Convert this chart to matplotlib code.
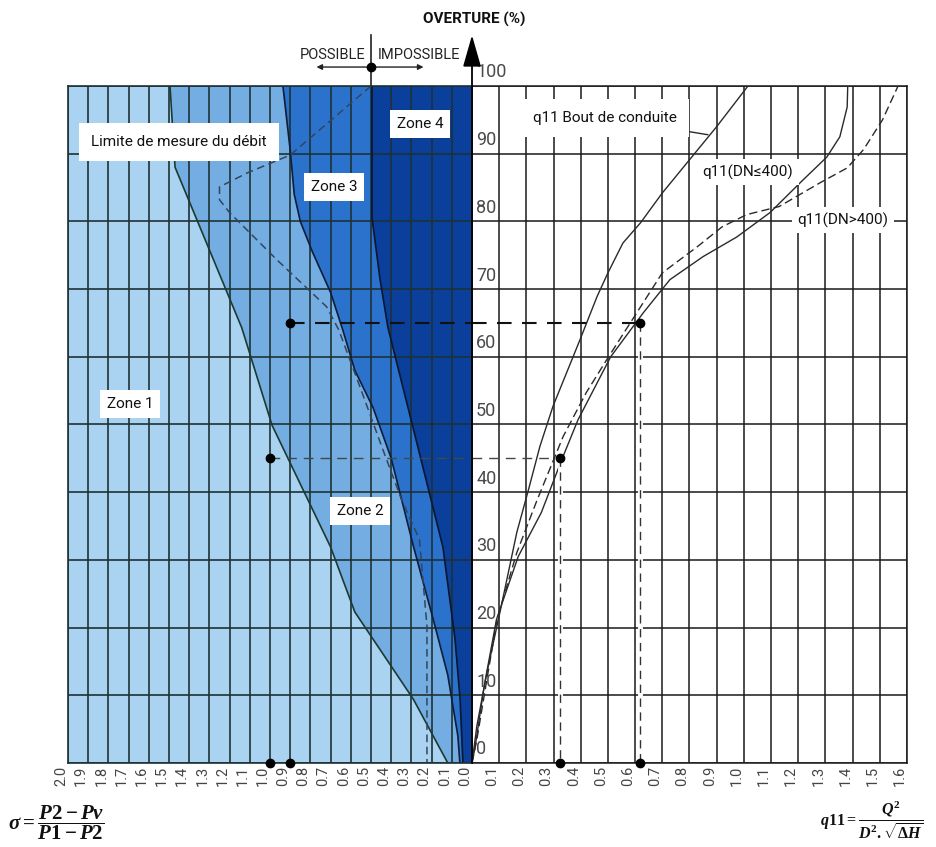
import numpy as np
import matplotlib
matplotlib.use("Agg")
import matplotlib.pyplot as plt
import matplotlib.transforms as mtransforms

plt.rcParams["font.family"] = ["Roboto", "DejaVu Sans"]
plt.rcParams["mathtext.fontset"] = "custom"
plt.rcParams["mathtext.rm"] = "Liberation Serif:bold"
plt.rcParams["mathtext.it"] = "Liberation Serif:italic:bold"
plt.rcParams["mathtext.bf"] = "Liberation Serif:bold"

# graduations
sigma_ticks = np.round(np.arange(0, 2.01, 0.1), 1)
q11_ticks = np.round(np.arange(0, 1.61, 0.1), 1)
ouv_ticks = np.arange(0, 101, 10)

# limites de zones (sigma, ouverture %)
zA_sigma = [1.495, 1.47, 1.14, 0.99, 0.70, 0.58, 0.49, 0.29, 0.12]
zA_ouv = [100, 88, 64.3, 49.9, 31.9, 22.3, 18.3, 9.4, 0]
zB_sigma = [0.936, 0.90, 0.88, 0.85, 0.79, 0.70, 0.64, 0.58, 0.49, 0.40, 0.29, 0.19, 0.12, 0.07, 0.06]
zB_ouv = [100, 90.5, 84, 80, 75.5, 69.5, 64, 58, 52.5, 45, 32, 21, 13, 4, 0]
zC_sigma = [0.495, 0.495, 0.455, 0.416, 0.295, 0.144, 0.084, 0.059, 0.045]
zC_ouv = [100, 80.5, 71.4, 64.3, 49.9, 31.9, 18.3, 9.4, 0]

# limite de mesure du debit
lim_sigma = [0.5, 0.90, 1.11, 1.25, 1.25, 1.20, 0.965, 0.72, 0.66, 0.56, 0.45, 0.35, 0.26, 0.223, 0.223]
lim_ouv = [100, 89.8, 87.2, 85.1, 83.2, 81.3, 74.3, 67.4, 64, 56, 47, 39, 33, 20.2, 0]

# courbes q11
bout_q = [0, 0.018, 0.055, 0.103, 0.165, 0.206, 0.25, 0.298, 0.397, 0.46, 0.50, 0.555, 0.62, 0.70, 0.80, 0.90, 1.015]
bout_ouv = [0, 5.5, 13.4, 22.3, 34.1, 40.1, 46.8, 52.7, 62.5, 68.9, 72.4, 76.8, 79.8, 84.2, 89.1, 94.0, 100]
dn1_q = [0, 0.012, 0.045, 0.09, 0.17, 0.255, 0.33, 0.39, 0.51, 0.63, 0.728, 0.85, 0.974, 1.096, 1.217, 1.305, 1.353, 1.38, 1.382]
dn1_ouv = [0, 2.5, 11.4, 21.2, 30.5, 37, 44.8, 50.7, 60, 66.5, 71.4, 74.8, 77.7, 81.3, 86.1, 89.5, 92.5, 96.9, 100]
dn2_q = [0, 0.018, 0.055, 0.092, 0.165, 0.24, 0.335, 0.42, 0.496, 0.59, 0.70, 0.83, 0.92, 1.01, 1.13, 1.28, 1.38, 1.44, 1.51, 1.567]
dn2_ouv = [0, 3.5, 12.4, 21.2, 31.1, 38.9, 48.2, 54.7, 59.6, 65.5, 72.4, 76.3, 79.2, 81, 82.2, 85.7, 87.9, 90.6, 95, 100]

# exemples de lecture
ex_sigma = [0.9, 1.0]
ex_ouv = [65, 45]
ex_q = [0.618, 0.324]

c_z1, c_z2, c_z3, c_z4 = "#a9d3f1", "#74ade2", "#2a72cc", "#0a3f9c"

W, H = 937, 847
fig = plt.figure(figsize=(W / 100, H / 100), dpi=100)


def rect(x0, y0, x1, y1):
    return [x0 / W, 1 - y1 / H, (x1 - x0) / W, (y1 - y0) / H]


axL = fig.add_axes(rect(68, 86, 472, 763))
axR = fig.add_axes(rect(472, 86, 907, 763))

# ---- partie gauche : sigma
axL.set_xlim(2.0, 0)
axL.set_ylim(0, 100)
axL.set_facecolor(c_z1)
axL.fill(zA_sigma + zB_sigma[::-1], zA_ouv + zB_ouv[::-1], color=c_z2, lw=0, zorder=0.5)
axL.fill(zB_sigma + zC_sigma[::-1], zB_ouv + zC_ouv[::-1], color=c_z3, lw=0, zorder=0.5)
axL.fill(zC_sigma + [0, 0], zC_ouv + [0, 100], color=c_z4, lw=0, zorder=0.5)
axL.plot(zA_sigma, zA_ouv, color="#1c3a30", lw=1.2, zorder=2)
axL.plot(zB_sigma, zB_ouv, color="#0e1d38", lw=1.2, zorder=2)
axL.plot(zC_sigma, zC_ouv, color="#0a1630", lw=1.2, zorder=2)
axL.plot(lim_sigma, lim_ouv, color="#33465c", lw=1.1, dashes=(5, 3), zorder=2)

axL.set_xticks(sigma_ticks)
axL.set_xticklabels([f"{v:.1f}" for v in sigma_ticks])
axL.set_yticks(ouv_ticks)
axL.grid(True, color="#1e3236", lw=1.2)
axL.tick_params(length=0, labelleft=False, pad=2)
for s in axL.spines.values():
    s.set_color("#1e3236")
    s.set_linewidth(1.2)

# ---- partie droite : q11
axR.set_xlim(0, 1.6)
axR.set_ylim(0, 100)
axR.set_xticks(q11_ticks)
axR.set_xticklabels([""] + [f"{v:.1f}" for v in q11_ticks[1:]])
axR.set_yticks(ouv_ticks)
axR.grid(True, color="#1a1a1a", lw=1.1)
axR.tick_params(length=0, labelleft=False, pad=2)
for s in axR.spines.values():
    s.set_color("#1a1a1a")
    s.set_linewidth(1.1)
axR.spines["left"].set_visible(False)

axR.plot(bout_q, bout_ouv, color="#2a2a2a", lw=1.0, zorder=3)
axR.plot(dn1_q, dn1_ouv, color="#2a2a2a", lw=1.0, zorder=3)
axR.plot(dn2_q, dn2_ouv, color="#2a2a2a", lw=1.0, dashes=(6, 3), zorder=3)

off = mtransforms.ScaledTranslation(-0.07, 0, fig.dpi_scale_trans)
for ax in (axL, axR):
    for lbl in ax.get_xticklabels():
        lbl.set_rotation(90)
        lbl.set_fontsize(10.5)
        lbl.set_color("#444444")
        lbl.set_transform(lbl.get_transform() + off)

for v in ouv_ticks:
    axR.text(0.015, v + 2, str(v), ha="left", va="center", fontsize=13,
             color="#4a4a4a", zorder=4)

# axe vertical avec fleche
axR.annotate("", xy=(0, 107.5), xytext=(0, 0),
             arrowprops=dict(arrowstyle="-|>,head_length=1.4,head_width=0.4",
                             color="black", lw=1.3, shrinkA=0, shrinkB=0,
                             mutation_scale=14),
             annotation_clip=False, zorder=8)

# lectures d'exemple
for s, o, q, style in zip(ex_sigma, ex_ouv, ex_q, [("#111111", 1.5), ("#3d4d45", 1.0)]):
    col, lw = style
    axL.plot([s, 0], [o, o], color=col, lw=lw, dashes=(7, 5), zorder=4)
    axR.plot([0, q], [o, o], color=col, lw=lw, dashes=(7, 5), zorder=4)
    axR.plot([q, q], [o, 0], color="white", lw=3.5, zorder=3.5)
    axR.plot([q, q], [o, 0], color="#333333", lw=1.0, dashes=(6, 4), zorder=4)
    axL.plot([s], [o], "o", color="black", ms=6, zorder=7)
    axR.plot([q], [o], "o", color="black", ms=6, zorder=7)
    axL.plot([s], [0], "o", color="black", ms=6, zorder=7, clip_on=False)
    axR.plot([q], [0], "o", color="black", ms=6, zorder=7, clip_on=False)

# possible / impossible
axL.plot([0.5, 0.5], [100, 107.6], color="#222222", lw=1.2, clip_on=False)
axL.plot([0.5], [102.8], "o", color="black", ms=6, clip_on=False, zorder=7)
axL.annotate("", xy=(0.77, 102.8), xytext=(0.5, 102.8),
             arrowprops=dict(arrowstyle="-|>", color="#222222", lw=1.0, shrinkA=0, shrinkB=0,
                             mutation_scale=8), annotation_clip=False)
axL.annotate("", xy=(0.24, 102.8), xytext=(0.5, 102.8),
             arrowprops=dict(arrowstyle="-|>", color="#222222", lw=1.0, shrinkA=0, shrinkB=0,
                             mutation_scale=8), annotation_clip=False)
axL.text(0.53, 104.6, "POSSIBLE", ha="right", va="center", fontsize=10.5, color="#222222")
axL.text(0.465, 104.6, "IMPOSSIBLE", ha="left", va="center", fontsize=10.5, color="#222222")

fig.text(474 / W, 1 - 19 / H, "OVERTURE (%)", ha="center", va="center",
         fontsize=11, fontweight="bold", color="#111111")


def boite(ax, x, y, txt, pad=0.45, size=11):
    return ax.text(x, y, txt, ha="center", va="center", fontsize=size, color="#111111",
                   zorder=9, bbox=dict(boxstyle=f"square,pad={pad}", fc="white", ec="none"))


boite(axL, 1.45, 91.7, "Limite de mesure du débit", pad=0.8)
boite(axL, 0.257, 94.4, "Zone 4")
boite(axL, 0.683, 85.1, "Zone 3")
boite(axL, 0.554, 37.2, "Zone 2")
boite(axL, 1.693, 53.0, "Zone 1")

axR.annotate("q11 Bout de conduite", xy=(0.868, 92.8), xytext=(0.489, 95.3),
             ha="center", va="center", fontsize=11, color="#111111", zorder=9,
             bbox=dict(boxstyle="square,pad=0.8", fc="white", ec="none"),
             arrowprops=dict(arrowstyle="-", color="#2a2a2a", lw=1.0, shrinkA=0, shrinkB=0))
boite(axR, 1.015, 87.3, "q11(DN≤400)", pad=0.35)
boite(axR, 1.364, 80.2, "q11(DN>400)", pad=0.35)

fig.text(8 / W, 1 - 823 / H, r"$\sigma = \dfrac{P2 - Pv}{P1 - P2}$", ha="left", va="center",
         fontsize=15, color="#111111")
fig.text(820 / W, 1 - 820 / H, r"$q11 = \dfrac{Q^2}{D^2.\sqrt{\Delta H}}$", ha="left", va="center",
         fontsize=11.5, color="#111111")

fig.savefig("out.png", dpi=100, facecolor="white")
